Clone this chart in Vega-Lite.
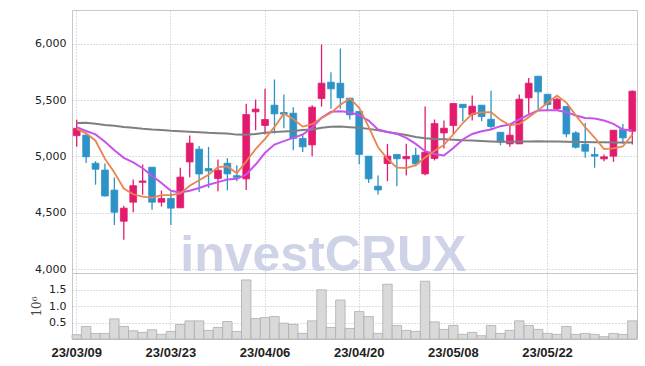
{
  "$schema": "https://vega.github.io/schema/vega-lite/v6.json",
  "background": "white",
  "padding": {"left": 29, "top": 9, "right": 9, "bottom": 5},
  "spacing": 0,
  "bounds": "flush",
  "config": {
    "view": {"stroke": "#c8c8c8", "strokeWidth": 1},
    "axis": {
      "domain": false,
      "ticks": false,
      "gridColor": "#b9bccd",
      "gridDash": [1, 2],
      "gridWidth": 1,
      "labelColor": "#222222",
      "labelFont": "DejaVu Sans",
      "labelFontSize": 11
    }
  },
  "data": {
    "values": [
      {"d": "23/03/09", "o": 5185, "h": 5325, "l": 5087, "c": 5250, "v": 0.13, "m5": 5245, "m20": 5261, "m120": 5298},
      {"d": "23/03/10", "o": 5190, "h": 5195, "l": 4943, "c": 4997, "v": 0.38, "m5": 5205, "m20": 5226, "m120": 5300},
      {"d": "23/03/13", "o": 4940, "h": 4958, "l": 4750, "c": 4887, "v": 0.17, "m5": 5140, "m20": 5196, "m120": 5290},
      {"d": "23/03/14", "o": 4880, "h": 4938, "l": 4645, "c": 4650, "v": 0.17, "m5": 4980, "m20": 5130, "m120": 5280},
      {"d": "23/03/15", "o": 4702, "h": 4815, "l": 4393, "c": 4506, "v": 0.61, "m5": 4858, "m20": 5055, "m120": 5272},
      {"d": "23/03/16", "o": 4426, "h": 4563, "l": 4262, "c": 4542, "v": 0.38, "m5": 4716, "m20": 4988, "m120": 5262},
      {"d": "23/03/17", "o": 4595, "h": 4795, "l": 4506, "c": 4741, "v": 0.25, "m5": 4665, "m20": 4947, "m120": 5255},
      {"d": "23/03/20", "o": 4771, "h": 4929, "l": 4661, "c": 4783, "v": 0.20, "m5": 4644, "m20": 4896, "m120": 5246},
      {"d": "23/03/21", "o": 4905, "h": 4905, "l": 4527, "c": 4595, "v": 0.28, "m5": 4633, "m20": 4830, "m120": 5240},
      {"d": "23/03/22", "o": 4595, "h": 4699, "l": 4557, "c": 4628, "v": 0.14, "m5": 4658, "m20": 4765, "m120": 5236},
      {"d": "23/03/23", "o": 4628, "h": 4682, "l": 4393, "c": 4542, "v": 0.23, "m5": 4658, "m20": 4696, "m120": 5228},
      {"d": "23/03/24", "o": 4545, "h": 4900, "l": 4545, "c": 4817, "v": 0.44, "m5": 4673, "m20": 4680, "m120": 5224},
      {"d": "23/03/27", "o": 4952, "h": 5187, "l": 4815, "c": 5119, "v": 0.55, "m5": 4740, "m20": 4696, "m120": 5220},
      {"d": "23/03/28", "o": 5065, "h": 5092, "l": 4685, "c": 4845, "v": 0.55, "m5": 4790, "m20": 4721, "m120": 5215},
      {"d": "23/03/29", "o": 4894, "h": 5085, "l": 4722, "c": 4872, "v": 0.26, "m5": 4839, "m20": 4750, "m120": 5210},
      {"d": "23/03/30", "o": 4805, "h": 4973, "l": 4692, "c": 4878, "v": 0.35, "m5": 4906, "m20": 4773, "m120": 5207},
      {"d": "23/03/31", "o": 4940, "h": 4985, "l": 4700, "c": 4846, "v": 0.53, "m5": 4912, "m20": 4796, "m120": 5204},
      {"d": "23/04/03", "o": 4830, "h": 4923, "l": 4781, "c": 4815, "v": 0.23, "m5": 4851, "m20": 4802, "m120": 5194},
      {"d": "23/04/04", "o": 4802, "h": 5467, "l": 4702, "c": 5372, "v": 1.79, "m5": 4957, "m20": 4840, "m120": 5193},
      {"d": "23/04/05", "o": 5396, "h": 5505, "l": 5233, "c": 5420, "v": 0.62, "m5": 5066, "m20": 4929, "m120": 5200},
      {"d": "23/04/06", "o": 5275, "h": 5600, "l": 5195, "c": 5328, "v": 0.65, "m5": 5156, "m20": 5033, "m120": 5210},
      {"d": "23/04/07", "o": 5455, "h": 5683, "l": 5204, "c": 5378, "v": 0.68, "m5": 5263, "m20": 5106, "m120": 5218},
      {"d": "23/04/10", "o": 5390, "h": 5550, "l": 5250, "c": 5375, "v": 0.48, "m5": 5379, "m20": 5136, "m120": 5222},
      {"d": "23/04/11", "o": 5384, "h": 5437, "l": 5056, "c": 5160, "v": 0.44, "m5": 5332, "m20": 5165, "m120": 5226},
      {"d": "23/04/12", "o": 5160, "h": 5189, "l": 5041, "c": 5086, "v": 0.17, "m5": 5265, "m20": 5195, "m120": 5236},
      {"d": "23/04/13", "o": 5103, "h": 5455, "l": 5003, "c": 5437, "v": 0.55, "m5": 5287, "m20": 5254, "m120": 5240},
      {"d": "23/04/14", "o": 5514, "h": 5993, "l": 5443, "c": 5650, "v": 1.49, "m5": 5342, "m20": 5343, "m120": 5255},
      {"d": "23/04/17", "o": 5659, "h": 5748, "l": 5423, "c": 5600, "v": 0.35, "m5": 5387, "m20": 5396, "m120": 5263},
      {"d": "23/04/18", "o": 5650, "h": 5957, "l": 5423, "c": 5520, "v": 1.18, "m5": 5459, "m20": 5402, "m120": 5266},
      {"d": "23/04/19", "o": 5517, "h": 5517, "l": 5328, "c": 5369, "v": 0.32, "m5": 5515, "m20": 5393, "m120": 5260},
      {"d": "23/04/20", "o": 5400, "h": 5400, "l": 4932, "c": 5018, "v": 0.83, "m5": 5431, "m20": 5365, "m120": 5255},
      {"d": "23/04/21", "o": 5003, "h": 5003, "l": 4766, "c": 4802, "v": 0.68, "m5": 5262, "m20": 5319, "m120": 5245},
      {"d": "23/04/24", "o": 4737, "h": 4831, "l": 4663, "c": 4703, "v": 0.17, "m5": 5082, "m20": 5239, "m120": 5232},
      {"d": "23/04/25", "o": 4938, "h": 5112, "l": 4781, "c": 5003, "v": 1.66, "m5": 4979, "m20": 5218, "m120": 5218},
      {"d": "23/04/26", "o": 5018, "h": 5018, "l": 4737, "c": 4980, "v": 0.41, "m5": 4901, "m20": 5200, "m120": 5205},
      {"d": "23/04/27", "o": 4980, "h": 5112, "l": 4831, "c": 5000, "v": 0.26, "m5": 4898, "m20": 5165, "m120": 5190},
      {"d": "23/04/28", "o": 5011, "h": 5077, "l": 4914, "c": 4935, "v": 0.23, "m5": 4924, "m20": 5112, "m120": 5172},
      {"d": "23/05/02", "o": 4846, "h": 5443, "l": 4834, "c": 5038, "v": 1.75, "m5": 4991, "m20": 5047, "m120": 5162},
      {"d": "23/05/03", "o": 4982, "h": 5328, "l": 4965, "c": 5292, "v": 0.52, "m5": 5049, "m20": 5023, "m120": 5156},
      {"d": "23/05/04", "o": 5209, "h": 5319, "l": 5070, "c": 5251, "v": 0.29, "m5": 5103, "m20": 5009, "m120": 5152},
      {"d": "23/05/08", "o": 5274, "h": 5470, "l": 5195, "c": 5470, "v": 0.41, "m5": 5197, "m20": 5076, "m120": 5148},
      {"d": "23/05/09", "o": 5463, "h": 5463, "l": 5313, "c": 5434, "v": 0.14, "m5": 5297, "m20": 5151, "m120": 5144},
      {"d": "23/05/10", "o": 5372, "h": 5540, "l": 5319, "c": 5446, "v": 0.20, "m5": 5379, "m20": 5200, "m120": 5142},
      {"d": "23/05/11", "o": 5455, "h": 5455, "l": 5313, "c": 5354, "v": 0.10, "m5": 5391, "m20": 5224, "m120": 5138},
      {"d": "23/05/12", "o": 5330, "h": 5582, "l": 5239, "c": 5266, "v": 0.41, "m5": 5394, "m20": 5239, "m120": 5134},
      {"d": "23/05/15", "o": 5215, "h": 5215, "l": 5100, "c": 5127, "v": 0.17, "m5": 5325, "m20": 5269, "m120": 5130},
      {"d": "23/05/16", "o": 5112, "h": 5283, "l": 5086, "c": 5189, "v": 0.26, "m5": 5276, "m20": 5284, "m120": 5130},
      {"d": "23/05/17", "o": 5112, "h": 5549, "l": 5112, "c": 5508, "v": 0.55, "m5": 5289, "m20": 5328, "m120": 5132},
      {"d": "23/05/18", "o": 5520, "h": 5697, "l": 5378, "c": 5650, "v": 0.41, "m5": 5348, "m20": 5372, "m120": 5134},
      {"d": "23/05/19", "o": 5712, "h": 5712, "l": 5416, "c": 5573, "v": 0.29, "m5": 5409, "m20": 5408, "m120": 5136},
      {"d": "23/05/22", "o": 5552, "h": 5552, "l": 5401, "c": 5460, "v": 0.17, "m5": 5476, "m20": 5410, "m120": 5134},
      {"d": "23/05/23", "o": 5422, "h": 5520, "l": 5408, "c": 5508, "v": 0.14, "m5": 5540, "m20": 5410, "m120": 5132},
      {"d": "23/05/24", "o": 5443, "h": 5443, "l": 5171, "c": 5200, "v": 0.38, "m5": 5478, "m20": 5393, "m120": 5130},
      {"d": "23/05/25", "o": 5209, "h": 5224, "l": 5070, "c": 5082, "v": 0.14, "m5": 5365, "m20": 5363, "m120": 5129},
      {"d": "23/05/26", "o": 5109, "h": 5298, "l": 4988, "c": 5047, "v": 0.17, "m5": 5259, "m20": 5342, "m120": 5128},
      {"d": "23/05/30", "o": 5018, "h": 5082, "l": 4900, "c": 5003, "v": 0.14, "m5": 5168, "m20": 5337, "m120": 5127},
      {"d": "23/05/31", "o": 4979, "h": 5018, "l": 4958, "c": 4997, "v": 0.07, "m5": 5066, "m20": 5319, "m120": 5126},
      {"d": "23/06/01", "o": 5003, "h": 5233, "l": 4953, "c": 5233, "v": 0.17, "m5": 5072, "m20": 5289, "m120": 5125},
      {"d": "23/06/02", "o": 5239, "h": 5289, "l": 5112, "c": 5165, "v": 0.14, "m5": 5089, "m20": 5239, "m120": 5124},
      {"d": "23/06/05", "o": 5224, "h": 5585, "l": 5106, "c": 5579, "v": 0.55, "m5": 5195, "m20": 5230, "m120": 5124}
    ]
  },
  "vconcat": [
    {
      "width": 565,
      "height": 263,
      "encoding": {
        "x": {
          "field": "d",
          "type": "ordinal",
          "sort": null,
          "scale": {"type": "band", "paddingInner": 0, "paddingOuter": 0},
          "axis": {
            "title": null,
            "labels": false,
            "grid": true,
            "values": ["23/03/09", "23/03/23", "23/04/06", "23/04/20", "23/05/08", "23/05/22"]
          }
        }
      },
      "layer": [
        {
          "mark": {"type": "rule", "strokeWidth": 1.3},
          "encoding": {
            "y": {
              "field": "l",
              "type": "quantitative",
              "scale": {"domain": [3967, 6299], "nice": false, "zero": false},
              "axis": {"title": null, "values": [4000, 4500, 5000, 5500, 6000], "format": ",d", "formatType": "number", "grid": true, "labelPadding": 6, "minExtent": 40, "maxExtent": 40}
            },
            "y2": {"field": "h"},
            "color": {"condition": {"test": "datum.c >= datum.o", "value": "#e31b6d"}, "value": "#2d93c6"}
          }
        },
        {
          "mark": {"type": "bar", "width": {"band": 0.72}, "strokeWidth": 0.8},
          "encoding": {
            "y": {"field": "o", "type": "quantitative"},
            "y2": {"field": "c"},
            "color": {"condition": {"test": "datum.c >= datum.o", "value": "#e31b6d"}, "value": "#2d93c6"},
            "stroke": {"condition": {"test": "datum.c >= datum.o", "value": "#e31b6d"}, "value": "#2d93c6"}
          }
        },
        {
          "mark": {"type": "line", "color": "#7f7f7f", "strokeWidth": 2},
          "encoding": {"y": {"field": "m120", "type": "quantitative"}}
        },
        {
          "mark": {"type": "line", "color": "#c653ea", "strokeWidth": 2},
          "encoding": {"y": {"field": "m20", "type": "quantitative"}}
        },
        {
          "mark": {"type": "line", "color": "#ea8550", "strokeWidth": 1.8},
          "encoding": {"y": {"field": "m5", "type": "quantitative"}}
        },
        {
          "transform": [{"filter": "datum.d == '23/03/24'"}],
          "mark": {"type": "text", "text": "investCRUX", "font": "Liberation Sans", "fontWeight": "bold", "fontSize": 50, "align": "left", "baseline": "alphabetic", "color": "#c3c9e2", "opacity": 0.8},
          "encoding": {
            "y": {"datum": 3985, "type": "quantitative"}
          }
        }
      ]
    },
    {
      "width": 565,
      "height": 66,
      "mark": {"type": "bar", "color": "#d9d9d9", "stroke": "#adadad", "strokeWidth": 0.8},
      "encoding": {
        "x": {
          "field": "d",
          "type": "ordinal",
          "sort": null,
          "scale": {"type": "band", "paddingInner": 0, "paddingOuter": 0},
          "axis": {
            "title": null,
            "grid": true,
            "labelAngle": 0,
            "labelPadding": 7,
            "labelFont": "Liberation Sans",
            "labelFontWeight": "bold",
            "labelFontSize": 13,
            "values": ["23/03/09", "23/03/23", "23/04/06", "23/04/20", "23/05/08", "23/05/22"]
          }
        },
        "y": {
          "field": "v",
          "type": "quantitative",
          "scale": {"domain": [0, 2], "nice": false},
          "axis": {"title": "10⁶", "titleFont": "DejaVu Serif", "titleFontWeight": "normal", "titleFontSize": 12, "titleColor": "#444444", "titlePadding": 9, "values": [0.5, 1, 1.5], "format": ".1f", "grid": true, "labelPadding": 6, "minExtent": 20, "maxExtent": 20}
        }
      }
    }
  ]
}
